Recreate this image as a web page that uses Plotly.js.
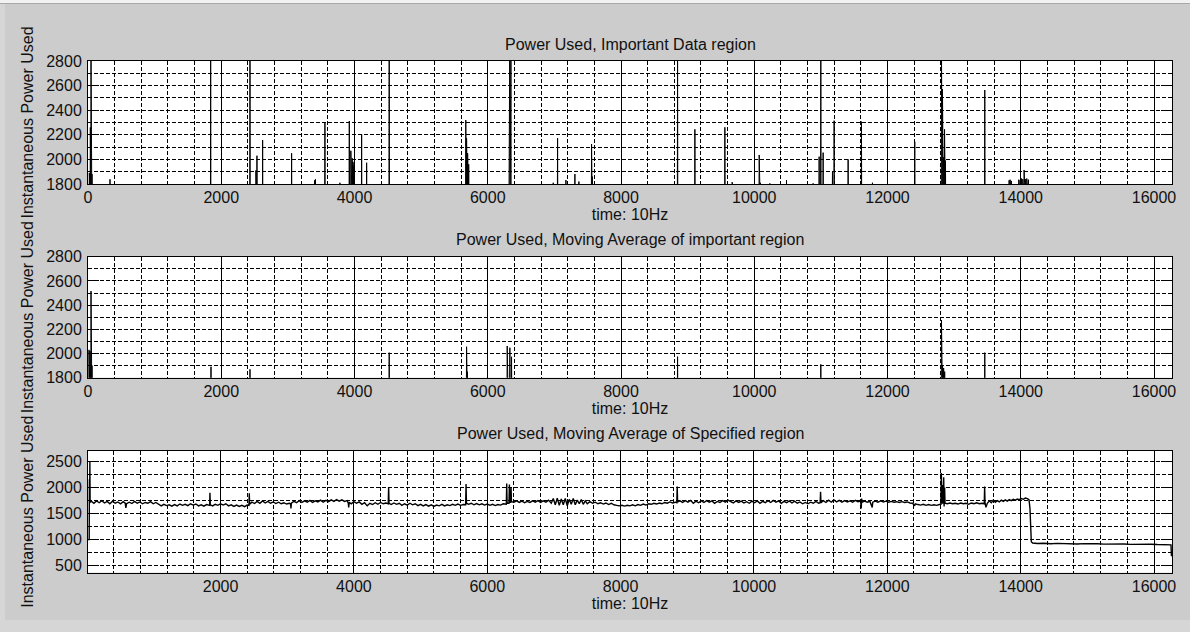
<!DOCTYPE html>
<html>
<head>
<meta charset="utf-8">
<script src="https://cdn.plot.ly/plotly-3.0.1.min.js"></script>
<style>
  html, body { margin: 0; padding: 0; background: #cccccc; }
  #chart { width: 1190px; height: 632px; }
</style>
</head>
<body>
<div id="chart"></div>
<script>
// ---------------- Data ----------------
const panelTitles = [
  "Power Used, Important Data region",
  "Power Used, Moving Average of important region",
  "Power Used, Moving Average of Specified region"
];
const xLabel = "time: 10Hz";
const yLabel = "Instantaneous Power Used";

// Typical level of the signal outside the spikes (below the visible window of panels 1-2)
const baseLevel = 1700;

// Panel 1: spikes of the raw signal, important data region (sample index, power)
const rawSpikeX = [20, 35, 45, 52, 60, 330, 1841, 2431, 2520, 2536, 2621, 3056, 3400, 3414,
  3556, 3781, 3922, 3945, 3955, 3965, 3978, 3990, 4107, 4182, 4521,
  5670, 5682, 5690, 5698, 5706, 5714, 6322, 6330, 6340, 6348, 6983, 7048, 7173, 7308, 7368,
  7558, 7570, 8849, 9109, 9559, 9669, 10074, 10090, 10234, 10484, 10884, 10974, 10999,
  11034, 11174, 11199, 11409, 11609, 11774, 12409,
  12810, 12818, 12825, 12832, 12840, 12848, 12856, 12863, 12870,
  13460, 13825, 13840, 13860, 13970, 13990, 14010, 14030, 14050, 14070, 14090, 14115];
const rawSpikeY = [1890, 2260, 2900, 1890, 1880, 1838, 2900, 2900, 1910, 2030, 2157, 2050, 1830, 1838,
  2298, 1810, 2312, 2070, 2060, 2010, 1980, 1950, 2204, 1973, 2900,
  2320, 2172, 2060, 2050, 2000, 1960, 2900, 2900, 2900, 2900, 1810, 2172, 1832, 1881, 1820,
  2125, 1860, 2900, 2245, 2261, 1815, 2036, 1810, 1805, 1830, 1805, 2022, 2900,
  2055, 1900, 2315, 2000, 2307, 1810, 2144,
  2900, 2020, 2570, 2020, 2010, 2020, 2245, 2010, 1990,
  2564, 1830, 1835, 1825, 1835, 1830, 1845, 1840, 1914, 1840, 1845, 1835];

// Panel 2: spikes of the moving average in the important region
const avgSpikeX = [15, 30, 45, 60, 1846, 2431, 4521, 5682, 5695, 6292, 6300, 6332, 6357,
  8849, 10999, 12810, 12818, 12826, 12834, 12842, 12850, 12858, 13460];
const avgSpikeY = [2030, 2020, 2516, 1900, 1891, 1869, 2007, 2056, 1850, 2062, 1950, 2048, 1973,
  1974, 1910, 2277, 1877, 1900, 1870, 1880, 1860, 1850, 2007];

// Panel 3: moving average of the specified region (sample index, power)
const specX = [
  2, 30, 33, 36, 40, 44, 60, 100, 140, 180, 220, 260, 300, 340, 380, 420, 460, 500, 540, 570, 580, 590,
  630, 670, 710, 750, 790, 830, 870, 910, 950, 990, 1030, 1070, 1110, 1150, 1190, 1230, 1270, 1310, 1350, 1390,
  1430, 1470, 1510, 1550, 1590, 1630, 1670, 1710, 1750, 1790, 1830, 1836, 1841, 1846, 1880, 1920, 1960, 2000, 2040, 2080,
  2120, 2160, 2200, 2240, 2280, 2320, 2360, 2400, 2426, 2431, 2436, 2470, 2510, 2550, 2590, 2630, 2670, 2710, 2750, 2790,
  2830, 2870, 2910, 2950, 2990, 3030, 3050, 3056, 3062, 3100, 3140, 3180, 3220, 3260, 3300, 3340, 3380, 3420, 3460, 3500,
  3540, 3580, 3620, 3660, 3700, 3740, 3780, 3820, 3860, 3900, 3916, 3922, 3930, 3960, 4000, 4040, 4080, 4120, 4160, 4200,
  4240, 4280, 4320, 4360, 4400, 4440, 4480, 4515, 4521, 4527, 4560, 4600, 4640, 4680, 4720, 4760, 4800, 4840, 4880, 4920,
  4960, 5000, 5040, 5080, 5120, 5160, 5200, 5240, 5280, 5320, 5360, 5400, 5440, 5480, 5520, 5560, 5600, 5640, 5676, 5682,
  5688, 5720, 5760, 5800, 5840, 5880, 5920, 5960, 6000, 6040, 6080, 6120, 6160, 6200, 6240, 6286, 6292, 6298, 6326, 6332,
  6338, 6351, 6357, 6363, 6400, 6440, 6480, 6520, 6560, 6600, 6640, 6680, 6720, 6760, 6800, 6840, 6880, 6920, 6960, 6990,
  7020, 7050, 7080, 7110, 7140, 7170, 7200, 7230, 7260, 7290, 7320, 7350, 7380, 7410, 7440, 7470, 7500, 7540, 7580, 7620,
  7660, 7700, 7740, 7780, 7820, 7860, 7900, 7940, 7980, 8020, 8060, 8100, 8140, 8180, 8220, 8260, 8300, 8340, 8380, 8420,
  8460, 8500, 8540, 8580, 8620, 8660, 8700, 8740, 8780, 8820, 8843, 8849, 8855, 8890, 8930, 8970, 9010, 9050, 9090, 9130,
  9170, 9210, 9250, 9290, 9330, 9370, 9410, 9450, 9490, 9530, 9570, 9610, 9650, 9690, 9730, 9770, 9810, 9850, 9890, 9930,
  9970, 10010, 10050, 10090, 10130, 10170, 10210, 10250, 10290, 10330, 10370, 10410, 10450, 10490, 10530, 10570, 10610, 10650, 10690, 10730,
  10770, 10810, 10850, 10890, 10930, 10970, 10993, 10999, 11005, 11040, 11080, 11120, 11160, 11200, 11240, 11280, 11320, 11360, 11400, 11440,
  11480, 11520, 11560, 11600, 11609, 11615, 11622, 11660, 11700, 11740, 11774, 11782, 11820, 11860, 11900, 11940, 11980, 12020, 12060, 12100,
  12140, 12180, 12220, 12260, 12300, 12340, 12380, 12409, 12420, 12460, 12500, 12540, 12580, 12620, 12660, 12700, 12740, 12780, 12804, 12810,
  12816, 12822, 12828, 12834, 12840, 12846, 12852, 12860, 12866, 12900, 12940, 12980, 13020, 13060, 13100, 13140, 13180, 13220, 13260, 13300,
  13340, 13380, 13420, 13454, 13460, 13466, 13480, 13500, 13530, 13560, 13590, 13620, 13650, 13680, 13710, 13740, 13770, 13800, 13830, 13860,
  13890, 13920, 13950, 13980, 14010, 14040, 14070, 14100, 14125, 14140, 14150, 14160, 14180, 14250, 14350, 14450, 14550, 14650, 14750, 14850,
  14950, 15050, 15150, 15250, 15350, 15450, 15550, 15650, 15750, 15850, 15950, 16050, 16150, 16230, 16255, 16262
];
const specY = [
  1000, 1000, 2160, 1700, 2500, 1720, 1740, 1700, 1745, 1710, 1750, 1705, 1735, 1690, 1740, 1700, 1725, 1690, 1730, 1700, 1610, 1690,
  1720, 1695, 1735, 1700, 1725, 1690, 1715, 1700, 1730, 1690, 1715, 1680, 1650, 1680, 1655, 1670, 1645, 1675, 1650, 1685,
  1660, 1680, 1655, 1690, 1665, 1685, 1650, 1670, 1645, 1675, 1660, 1660, 1900, 1670, 1650, 1680, 1660, 1690, 1665, 1690,
  1650, 1670, 1640, 1665, 1640, 1660, 1635, 1665, 1660, 1890, 1680, 1720, 1695, 1735, 1700, 1745, 1705, 1735, 1700, 1725,
  1695, 1720, 1690, 1710, 1685, 1700, 1690, 1600, 1700, 1735, 1710, 1750, 1715, 1745, 1720, 1755, 1715, 1745, 1725, 1760,
  1720, 1755, 1730, 1765, 1735, 1770, 1740, 1765, 1735, 1750, 1700, 1620, 1720, 1690, 1730, 1700, 1725, 1680, 1710, 1650,
  1700, 1675, 1710, 1680, 1715, 1690, 1705, 1690, 2010, 1700, 1675, 1705, 1680, 1700, 1660, 1690, 1665, 1700, 1670, 1690,
  1655, 1680, 1650, 1675, 1645, 1670, 1640, 1665, 1650, 1680, 1650, 1670, 1655, 1680, 1660, 1685, 1660, 1675, 1670, 2070,
  1700, 1680, 1700, 1670, 1695, 1670, 1690, 1665, 1685, 1660, 1680, 1655, 1675, 1665, 1690, 1680, 2080, 1700, 1700, 2060,
  1720, 1720, 2000, 1730, 1720, 1745, 1715, 1740, 1710, 1735, 1715, 1745, 1720, 1750, 1715, 1745, 1720, 1760, 1700, 1790,
  1670, 1795, 1660, 1780, 1670, 1790, 1650, 1775, 1680, 1790, 1670, 1760, 1690, 1770, 1680, 1745, 1690, 1730, 1700, 1720,
  1690, 1710, 1685, 1705, 1675, 1700, 1670, 1660, 1650, 1660, 1645, 1660, 1650, 1670, 1650, 1675, 1660, 1685, 1665, 1690,
  1680, 1700, 1685, 1705, 1690, 1715, 1700, 1725, 1705, 1720, 1710, 2020, 1725, 1745, 1715, 1750, 1720, 1755, 1700, 1740,
  1710, 1745, 1715, 1750, 1720, 1745, 1700, 1735, 1715, 1750, 1720, 1760, 1725, 1705, 1745, 1715, 1740, 1705, 1730, 1700,
  1740, 1710, 1745, 1700, 1735, 1710, 1750, 1715, 1755, 1720, 1745, 1700, 1735, 1710, 1745, 1705, 1740, 1700, 1725, 1690,
  1715, 1690, 1720, 1700, 1735, 1700, 1710, 1920, 1710, 1750, 1715, 1760, 1720, 1765, 1725, 1755, 1720, 1750, 1725, 1745,
  1720, 1755, 1730, 1740, 1600, 1790, 1720, 1740, 1720, 1735, 1620, 1720, 1740, 1720, 1745, 1725, 1740, 1720, 1735, 1720,
  1730, 1715, 1730, 1715, 1725, 1705, 1700, 1650, 1690, 1675, 1665, 1680, 1660, 1675, 1660, 1670, 1660, 1675, 1680, 2280,
  1700, 1690, 2050, 1700, 1690, 2200, 1640, 2000, 1700, 1690, 1705, 1690, 1700, 1685, 1705, 1690, 1700, 1680, 1705, 1690,
  1710, 1690, 1700, 1690, 2020, 1700, 1620, 1700, 1745, 1710, 1760, 1720, 1750, 1725, 1760, 1735, 1765, 1740, 1770, 1750,
  1775, 1760, 1780, 1770, 1790, 1775, 1800, 1790, 1770, 1600, 1200, 960, 935, 925, 932, 922, 928, 920, 926, 918,
  924, 916, 922, 915, 920, 913, 918, 910, 915, 908, 913, 906, 910, 903, 900, 680
];

// Axis ranges
const xRange = [0, 16270];
const xRange3 = [12, 16270];
const yRangeTop = [1800, 2800];
const yRangeBottom = [365, 2710];

// ---------------- Build traces ----------------
// Each spike is drawn as a narrow peak rising from the base level.
function spikeSeries(xs, ys, base) {
  const x = [], y = [];
  for (let i = 0; i < xs.length; i++) {
    x.push(xs[i] - 3, xs[i], xs[i] + 3);
    y.push(base, ys[i], base);
  }
  return { x, y };
}
const s1 = spikeSeries(rawSpikeX, rawSpikeY, baseLevel);
const s2 = spikeSeries(avgSpikeX, avgSpikeY, baseLevel);

const lineStyle = { color: '#000000', width: 1 };
const traces = [
  { x: s1.x, y: s1.y, xaxis: 'x', yaxis: 'y', type: 'scatter', mode: 'lines', line: lineStyle, hoverinfo: 'skip' },
  { x: s2.x, y: s2.y, xaxis: 'x2', yaxis: 'y2', type: 'scatter', mode: 'lines', line: lineStyle, hoverinfo: 'skip' },
  { x: specX, y: specY, xaxis: 'x3', yaxis: 'y3', type: 'scatter', mode: 'lines', line: { color: '#000000', width: 1.4 }, hoverinfo: 'skip' }
];

// ---------------- Layout ----------------
const W = 1190, H = 632;
const xDomain = [88 / W, 1172 / W];
const panelPx = [[61, 184], [256.7, 377.7], [450.7, 572.7]];
const yDom = p => [1 - p[1] / H, 1 - p[0] / H];

function xAxis(anchor, range) {
  return {
    domain: xDomain, anchor: anchor, range: range,
    tick0: 0, dtick: 2000, tickformat: 'd', ticks: 'inside', ticklen: 11, tickcolor: '#000', tickwidth: 1,
    showline: true, linecolor: '#000', linewidth: 1, mirror: 'ticks',
    showgrid: true, gridcolor: '#000', gridwidth: 1,
    minor: { tick0: 0, dtick: 400, showgrid: true, gridcolor: '#000', gridwidth: 1, griddash: '4px,2px', ticks: '' },
    zeroline: false, automargin: false, fixedrange: true,
    ticklabelstandoff: -1,
    tickfont: { size: 16 },
    title: { text: xLabel, font: { size: 16 }, standoff: 2 }
  };
}
function yAxis(anchor, domain, range, dtick, minorDtick) {
  return {
    domain: domain, anchor: anchor, range: range,
    tick0: 0, dtick: dtick, tickformat: 'd', ticks: 'inside', ticklen: 11, tickcolor: '#000', tickwidth: 1,
    showline: true, linecolor: '#000', linewidth: 1, mirror: 'ticks',
    showgrid: true, gridcolor: '#000', gridwidth: 1, griddash: '4px,2px',
    minor: { tick0: 0, dtick: minorDtick, showgrid: true, gridcolor: '#000', gridwidth: 1, griddash: '4px,2px', ticks: '' },
    zeroline: false, automargin: false, fixedrange: true,
    ticklabelstandoff: 2,
    tickfont: { size: 16 },
    title: { text: yLabel, font: { size: 16 }, standoff: 8 }
  };
}

const titleY = [44, 239, 433];
const annotations = panelTitles.map((t, i) => ({
  text: t, xref: 'paper', yref: 'paper', x: 630 / W, y: 1 - titleY[i] / H,
  xanchor: 'center', yanchor: 'middle', showarrow: false, font: { size: 16, color: '#111' }
}));

// Window frame around the figure (light edge at top, left and bottom)
const px = v => v / W, py = v => 1 - v / H;
const shapes = [
  { type: 'rect', xref: 'paper', yref: 'paper', x0: 0, x1: 1, y0: py(3), y1: 1, fillcolor: '#f2f2f2', line: { width: 0 }, layer: 'below' },
  { type: 'line', xref: 'paper', yref: 'paper', x0: 0, x1: 1, y0: py(3.5), y1: py(3.5), line: { color: '#a8a8a8', width: 1 }, layer: 'below' },
  { type: 'rect', xref: 'paper', yref: 'paper', x0: 0, x1: px(5), y0: 0, y1: py(4), fillcolor: '#d6d6d6', line: { width: 0 }, layer: 'below' },
  { type: 'rect', xref: 'paper', yref: 'paper', x0: 0, x1: 1, y0: 0, y1: py(620), fillcolor: '#d6d6d6', line: { width: 0 }, layer: 'below' }
];

const layout = {
  width: W, height: H,
  paper_bgcolor: '#cccccc', plot_bgcolor: '#ffffff',
  margin: { l: 0, r: 0, t: 0, b: 0, pad: 0 },
  showlegend: false,
  font: { family: '"Liberation Sans", Arial, sans-serif', size: 16, color: '#111111' },
  xaxis: xAxis('y', xRange),
  xaxis2: xAxis('y2', xRange),
  xaxis3: xAxis('y3', xRange3),
  yaxis: yAxis('x', yDom(panelPx[0]), yRangeTop, 200, 100),
  yaxis2: yAxis('x2', yDom(panelPx[1]), yRangeTop, 200, 100),
  yaxis3: yAxis('x3', yDom(panelPx[2]), yRangeBottom, 500, 250),
  annotations: annotations,
  shapes: shapes
};

Plotly.newPlot('chart', traces, layout, { displayModeBar: false, staticPlot: true });
</script>
</body>
</html>
